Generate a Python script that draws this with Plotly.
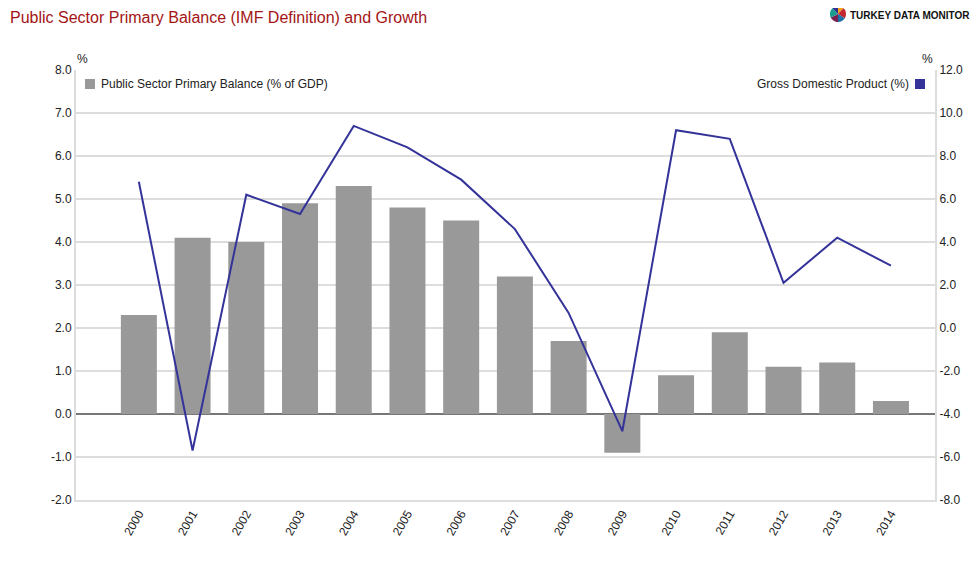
import math
import plotly.graph_objects as go

years = ["2000", "2001", "2002", "2003", "2004", "2005", "2006", "2007",
         "2008", "2009", "2010", "2011", "2012", "2013", "2014"]
primary_balance = [2.3, 4.1, 4.0, 4.9, 5.3, 4.8, 4.5, 3.2, 1.7, -0.9, 0.9, 1.9, 1.1, 1.2, 0.3]
gdp_growth = [6.8, -5.7, 6.2, 5.3, 9.4, 8.4, 6.9, 4.6, 0.7, -4.8, 9.2, 8.8, 2.1, 4.2, 2.9]
left_ticks = [-2, -1, 0, 1, 2, 3, 4, 5, 6, 7, 8]
left_labels = ["-2.0", "-1.0", "0.0", "1.0", "2.0", "3.0", "4.0", "5.0", "6.0", "7.0", "8.0"]
right_ticks = [-8, -6, -4, -2, 0, 2, 4, 6, 8, 10, 12]
right_labels = ["-8.0", "-6.0", "-4.0", "-2.0", "0.0", "2.0", "4.0", "6.0", "8.0", "10.0", "12.0"]
logo_shares = [0.12, 0.22, 0.16, 0.18, 0.2, 0.12]
logo_colors = ["#f2a31c", "#c1272d", "#1f6fa8", "#7b1f4e", "#1a9c8f", "#2e3192"]

GRAY = "#999999"
BLUE = "#333399"
TXT = "#222222"

W, H = 971, 562
ML, MR, MT, MB = 68, 44, 62, 70
PW, PH = W - ML - MR, H - MT - MB


def px_x(x):  # window pixel -> paper x
    return (x - 8 - ML) / PW


def px_y(y):  # window pixel -> paper y
    return 1 - (y - 8 - MT) / PH


fig = go.Figure()
fig.add_trace(go.Bar(
    x=years, y=primary_balance, name="Public Sector Primary Balance (% of GDP)",
    marker=dict(color=GRAY, line=dict(width=0)), width=0.67, yaxis="y",
    showlegend=False,
))
fig.add_trace(go.Scatter(
    x=years, y=gdp_growth, name="Gross Domestic Product (%)", mode="lines",
    line=dict(color=BLUE, width=2), yaxis="y2", showlegend=False,
))

fig.update_layout(
    width=W, height=H,
    margin=dict(l=ML, r=MR, t=MT, b=MB, autoexpand=False),
    paper_bgcolor="white", plot_bgcolor="white",
    font=dict(family="Arial, Liberation Sans, sans-serif", size=12, color=TXT),
    showlegend=False,
    xaxis=dict(
        type="category", range=[-1.17, 14.82], tickangle=-60,
        showgrid=False, showline=True, linecolor="#dddddd", linewidth=2,
        ticks="", tickfont=dict(size=12, color=TXT),
    ),
    yaxis=dict(
        range=[-2, 8], tickvals=left_ticks, ticktext=left_labels,
        showgrid=True, gridcolor="#dddddd", gridwidth=1.5,
        zeroline=True, zerolinecolor="#777777", zerolinewidth=2,
        showline=True, linecolor="#dddddd", linewidth=2,
        ticks="", tickfont=dict(size=12, color=TXT),
    ),
    yaxis2=dict(
        range=[-8, 12], tickvals=right_ticks, ticktext=right_labels,
        overlaying="y", side="right", showgrid=False, zeroline=False,
        showline=True, linecolor="#dddddd", linewidth=2,
        ticks="", tickfont=dict(size=12, color=TXT),
    ),
)

# title
fig.add_annotation(text="Public Sector Primary Balance (IMF Definition) and Growth",
                   xref="paper", yref="paper", x=px_x(8), y=px_y(18),
                   xanchor="left", yanchor="middle", showarrow=False,
                   font=dict(size=16, color="#a31515"))
# logo text
fig.add_annotation(text="<b>TURKEY DATA MONITOR</b>",
                   xref="paper", yref="paper", x=px_x(848), y=px_y(15),
                   xanchor="left", yanchor="middle", showarrow=False,
                   font=dict(size=10, color="#111111", family="Arial, Liberation Sans"))
# logo pie (polygon wedges)
start = math.pi / 2
total = sum(logo_shares)
for share, col in zip(logo_shares, logo_colors):
    end = start - 2 * math.pi * share / total
    n = 8
    pts = [(0, 0)] + [(8 * math.cos(start + (end - start) * i / n),
                       8 * math.sin(start + (end - start) * i / n)) for i in range(n + 1)]
    path = "M " + " L ".join(f"{px:.2f},{py:.2f}" for px, py in pts) + " Z"
    fig.add_shape(type="path", xref="paper", yref="paper",
                  xsizemode="pixel", ysizemode="pixel",
                  xanchor=px_x(838), yanchor=px_y(14), path=path,
                  fillcolor=col, line=dict(width=0))
    start = end

# axis unit labels
fig.add_annotation(text="%", xref="paper", yref="paper", x=px_x(75), y=px_y(59),
                   xanchor="left", yanchor="middle", showarrow=False,
                   font=dict(size=12, color=TXT))
fig.add_annotation(text="%", xref="paper", yref="paper", x=px_x(935), y=px_y(59),
                   xanchor="right", yanchor="middle", showarrow=False,
                   font=dict(size=12, color=TXT))

# legends
fig.add_shape(type="rect", xref="paper", yref="paper",
              x0=px_x(85), x1=px_x(95), y0=px_y(89), y1=px_y(79),
              fillcolor=GRAY, line=dict(width=0))
fig.add_annotation(text="Public Sector Primary Balance (% of GDP)", xref="paper", yref="paper",
                   x=px_x(99), y=px_y(84), xanchor="left", yanchor="middle",
                   showarrow=False, font=dict(size=12, color=TXT))
fig.add_annotation(text="Gross Domestic Product (%)", xref="paper", yref="paper",
                   x=px_x(911), y=px_y(84), xanchor="right", yanchor="middle",
                   showarrow=False, font=dict(size=12, color=TXT))
fig.add_shape(type="rect", xref="paper", yref="paper",
              x0=px_x(915), x1=px_x(925), y0=px_y(89), y1=px_y(79),
              fillcolor=BLUE, line=dict(width=0))

fig.write_html("out.html")
